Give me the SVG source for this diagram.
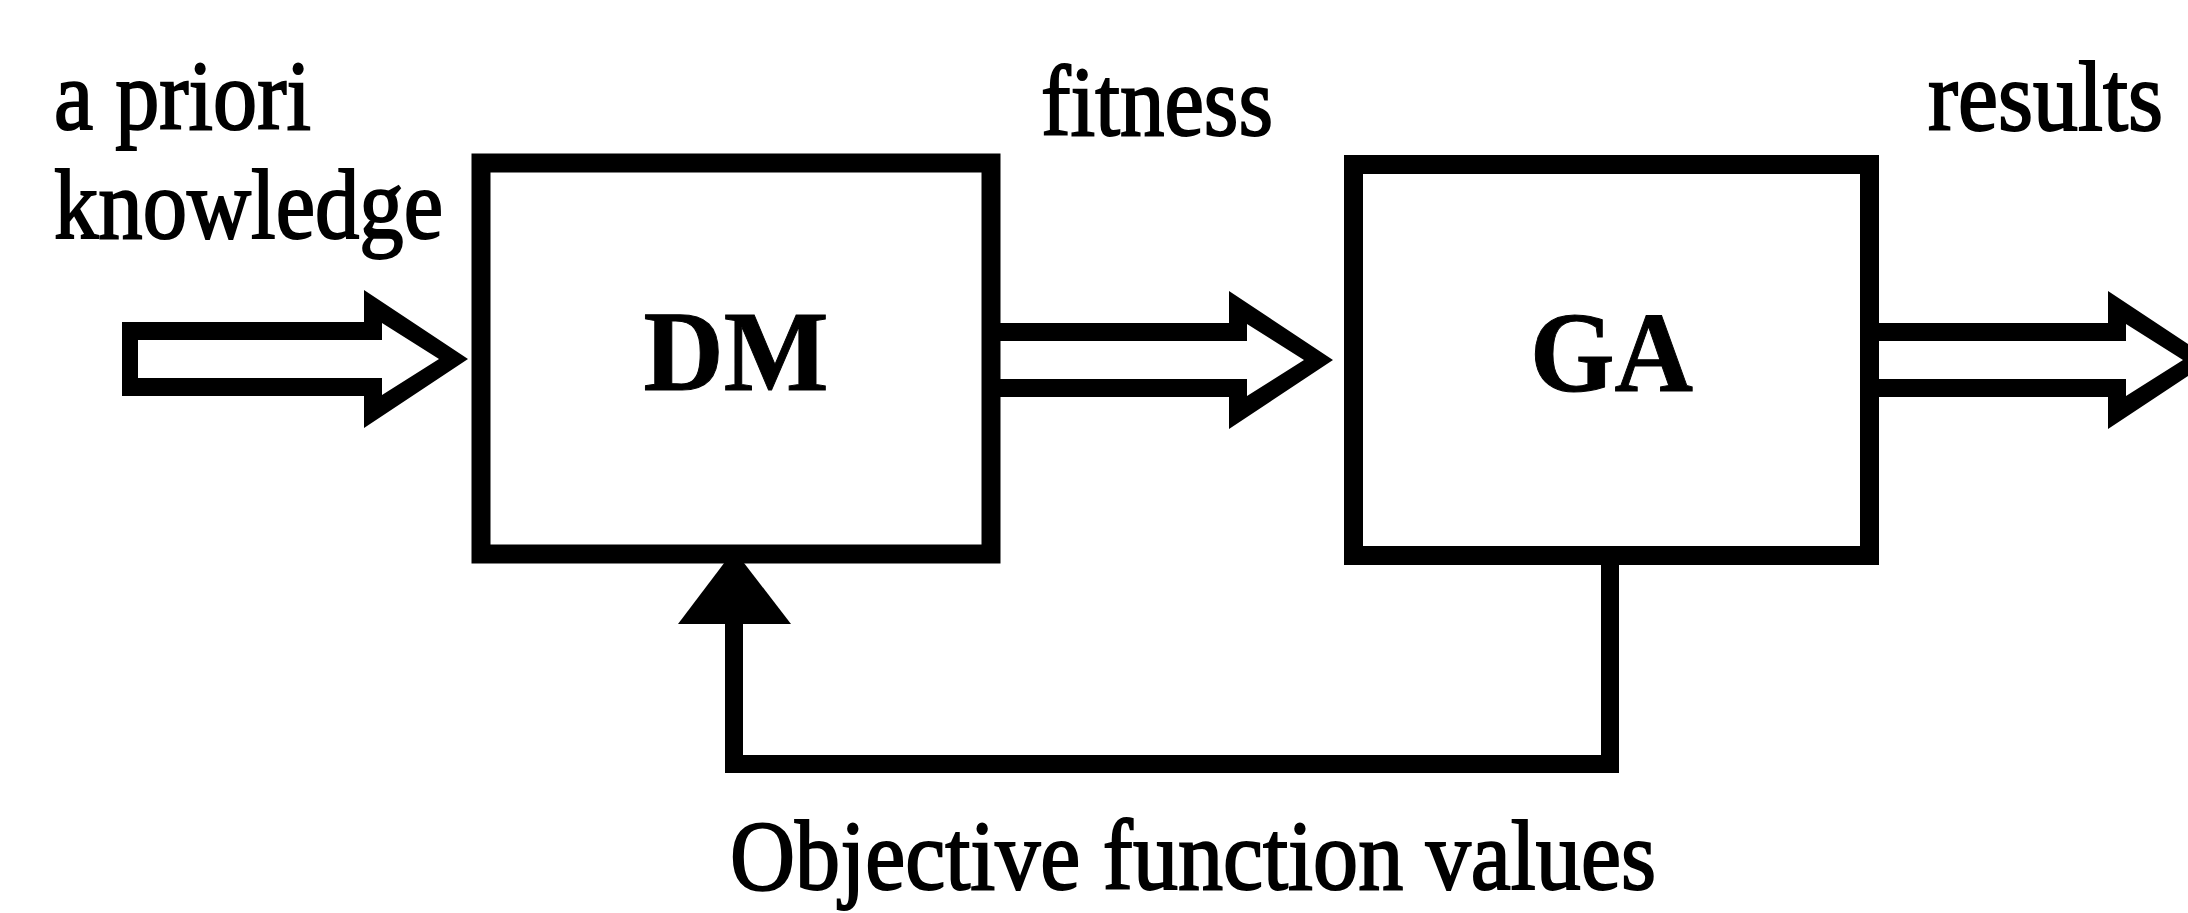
<svg xmlns="http://www.w3.org/2000/svg" width="2188" height="913" viewBox="0 0 2188 913">
  <style>
    .box { fill: #ffffff; stroke: #000000; stroke-width: 19; stroke-linejoin: miter; }
    .hollow { fill: #000000; fill-rule: evenodd; stroke: none; }
    .line { fill: none; stroke: #000000; stroke-width: 18; stroke-linejoin: miter; stroke-linecap: butt; }
    .head { fill: #000000; stroke: none; }
    .label { font-family: "Liberation Serif", "Times New Roman", serif; font-size: 100px; fill: #000000; stroke: #000000; stroke-width: 2; }
    .title { font-family: "Liberation Serif", "Times New Roman", serif; font-size: 114px; font-weight: bold; fill: #000000; stroke: #000000; stroke-width: 1; text-anchor: middle; }
  </style>
  <rect width="2188" height="913" fill="#ffffff"/>

  <!-- connectors: hollow block arrows and the feedback loop -->
  <g id="connectors">
    <!-- a priori knowledge into DM -->
    <path class="hollow" d="M122,322 H364 V290 L468,359 L364,428 V396 H122 Z M138,340 H382 V323 L439,359 L382,395 V378 H138 Z"/>
    <!-- DM to GA (fitness) -->
    <path class="hollow" d="M995,323 H1229 V291 L1333,360 L1229,429 V397 H995 Z M995,341 H1247 V324 L1304,360 L1247,396 V379 H995 Z"/>
    <!-- GA results out -->
    <path class="hollow" d="M1872,323 H2108 V291 L2212,360 L2108,429 V397 H1872 Z M1872,341 H2126 V324 L2183,360 L2126,396 V379 H1872 Z"/>
    <!-- feedback: objective function values from GA back to DM -->
    <path class="line" d="M1610,555 V764 H734 V618"/>
    <polygon class="head" points="734,550 678,624 791,624"/>
  </g>

  <g id="node-dm">
    <rect class="box" x="481" y="163" width="510" height="391"/>
    <text class="title" x="736" y="390" textLength="185" lengthAdjust="spacingAndGlyphs">DM</text>
  </g>

  <g id="node-ga">
    <rect class="box" x="1353.5" y="164.5" width="516" height="391"/>
    <text class="title" x="1611.5" y="391" textLength="163" lengthAdjust="spacingAndGlyphs">GA</text>
  </g>

  <g id="labels">
    <text class="label" x="54" y="129" textLength="257" lengthAdjust="spacingAndGlyphs">a priori</text>
    <text class="label" x="54" y="238" textLength="389" lengthAdjust="spacingAndGlyphs">knowledge</text>
    <text class="label" x="1041" y="135" textLength="232" lengthAdjust="spacingAndGlyphs">fitness</text>
    <text class="label" x="1928" y="130" textLength="235" lengthAdjust="spacingAndGlyphs">results</text>
    <text class="label" x="730" y="889" textLength="926" lengthAdjust="spacingAndGlyphs">Objective function values</text>
  </g>
</svg>
